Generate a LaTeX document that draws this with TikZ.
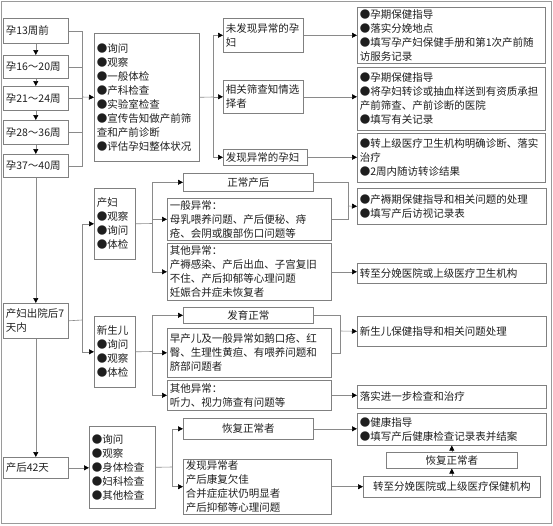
\documentclass[tikz,border=0pt]{standalone}
\usepackage{fontspec}
\setmainfont{Noto Sans CJK SC}
\usetikzlibrary{arrows.meta}
\definecolor{edge}{HTML}{808080}
\definecolor{wire}{HTML}{8A8A8A}
\definecolor{ink}{HTML}{1E1E1E}
\definecolor{rim}{HTML}{9A9A9A}

\begin{document}
\begin{tikzpicture}[x=1pt,y=-1pt,font=\fontsize{10.5}{14}\selectfont,text=ink,
  box/.style={draw=edge,line width=0.6pt,anchor=north west,inner xsep=2.5pt,inner ysep=1.5pt,align=left},
  link/.style={draw=wire,line width=0.6pt},
  arr/.style={link,-{Triangle[length=5pt,width=5pt,color=black]}}]
\useasboundingbox (0,0) rectangle (553,525);
\draw[rim,line width=1.5pt] (1.5,1.5) rectangle (551.5,523.5);

% left column
\node[box,text width=60pt,minimum height=25pt] (w13) at (3,18) {孕13周前};
\node[box,text width=60pt,minimum height=23pt] (w16) at (3,55) {孕16～20周};
\node[box,text width=60pt,minimum height=24pt] (w21) at (3,86) {孕21～24周};
\node[box,text width=60pt,minimum height=24pt] (w28) at (3,120) {孕28～36周};
\node[box,text width=60pt,minimum height=23pt] (w37) at (3,154) {孕37～40周};
\node[box,text width=60pt,minimum height=35pt] (d7) at (3,303) {产妇出院后7\\天内};
\node[box,text width=60pt,minimum height=21pt] (d42) at (3,457) {产后42天};

% prenatal
\node[box,text width=100pt,minimum height=128pt] (chk) at (94,33)
  {●询问\\●观察\\●一般体检\\●产科检查\\●实验室检查\\●宣传告知做产前筛\\查和产前诊断\\●评估孕妇整体状况};
\node[box,text width=75pt,minimum height=34pt] (p1) at (223,18) {未发现异常的孕\\妇};
\node[box,text width=75pt,minimum height=33pt] (p2) at (223,80) {相关筛查知情选\\择者};
\node[box,text width=79pt,minimum height=16pt] (p3) at (223,149) {发现异常的孕妇};
\node[box,text width=183pt,minimum height=56pt] (r1) at (357,7)
  {●孕期保健指导\\●落实分娩地点\\●填写孕产妇保健手册和第1次产前随\\访服务记录};
\node[box,text width=183pt,minimum height=63pt] (r2) at (357,67)
  {●孕期保健指导\\●将孕妇转诊或抽血样送到有资质承担\\产前筛查、产前诊断的医院\\●填写有关记录};
\node[box,text width=183pt,minimum height=49pt] (r3) at (357,133)
  {●转上级医疗卫生机构明确诊断、落实\\治疗\\●2周内随访转诊结果};

% postpartum, mother
\node[box,text width=36pt,minimum height=71pt] (mom) at (94,188) {产妇\\●观察\\●询问\\●体检};
\node[box,text width=125pt,minimum height=18pt,align=center] (n1) at (183,173) {正常产后};
\node[box,text width=159pt,minimum height=42pt] (n2) at (167,198)
  {一般异常：\\母乳喂养问题、产后便秘、痔\\疮、会阴或腹部伤口问题等};
\node[box,text width=159pt,minimum height=57pt] (n3) at (167,243)
  {其他异常：\\产褥感染、产后出血、子宫复旧\\不住、产后抑郁等心理问题\\妊娠合并症未恢复者};
\node[box,text width=184pt,minimum height=36pt] (r4) at (357,188)
  {●产褥期保健指导和相关问题的处理\\●填写产后访视记录表};
\node[box,text width=184pt,minimum height=20pt] (r5) at (357,263) {转至分娩医院或上级医疗卫生机构};

% postpartum, newborn
\node[box,text width=36pt,minimum height=71pt] (baby) at (94,316) {新生儿\\●询问\\●观察\\●体检};
\node[box,text width=125pt,minimum height=16pt,align=center] (b1) at (183,307) {发育正常};
\node[box,text width=159pt,minimum height=49pt] (b2) at (167,328)
  {早产儿及一般异常如鹅口疮、红\\臀、生理性黄疸、有喂养问题和\\脐部问题者};
\node[box,text width=159pt,minimum height=30pt] (b3) at (167,380) {其他异常：\\听力、视力筛查有问题等};
\node[box,text width=184pt,minimum height=30pt] (r6) at (357,316) {新生儿保健指导和相关问题处理};
\node[box,text width=184pt,minimum height=23pt] (r7) at (357,385) {落实进一步检查和治疗};

% 42 days
\node[box,text width=61pt,minimum height=82pt] (chk42) at (89,426)
  {●询问\\●观察\\●身体检查\\●妇科检查\\●其他检查};
\node[box,text width=125pt,minimum height=21pt,align=center] (f1) at (183,418) {恢复正常者};
\node[box,text width=143pt,minimum height=54pt] (f2) at (183,459)
  {发现异常者\\产后康复欠佳\\合并症症状仍明显者\\产后抑郁等心理问题};
\node[box,text width=184pt,minimum height=32pt] (r8) at (357,413)
  {●健康指导\\●填写产后健康检查记录表并结案};
\node[box,text width=126pt,minimum height=16pt,align=center] (rec) at (386,452) {恢复正常者};
\node[box,text width=172pt,minimum height=21pt,align=center] (r9) at (363,476) {转至分娩医院或上级医疗保健机构};

\coordinate (bus1) at (82,97);
\coordinate (bus2) at (213,97);
\coordinate (bus3) at (82,320);
\coordinate (bus4) at (152,223.5);
\coordinate (bus5) at (152,351.5);
\coordinate (bus6) at (172,467);
\coordinate (j1) at (348,206);
\coordinate (j2) at (340,331);

\draw[arr] (w13) -- (w16);
\draw[arr] (w16) -- (w21);
\draw[arr] (w21) -- (w28);
\draw[arr] (w28) -- (w37);
\draw[arr] (w37) -- (d7);
\draw[arr] (d7) -- (d42);

\foreach \w in {w13,w16,w21,w28,w37}
  \draw[link] (\w.east) -| (bus1);
\draw[arr] (bus1) -- (chk.west);
\draw[link] (chk.east) -- (bus2);
\foreach \p/\r in {p1/r1,p2/r2,p3/r3}{
  \draw[arr] (bus2) |- (\p.west);
  \draw[arr] (\p.east) -- (\p.east -| \r.west);
}

\draw[link] (d7.east) -- (bus3);
\draw[arr] (bus3) |- (mom.west);
\draw[arr] (bus3) |- (baby.west);
\draw[link] (mom.east) -- (bus4);
\foreach \n in {n1,n2,n3}
  \draw[arr] (bus4) |- (\n.west);
\draw[link] (n1.east) -| (j1);
\draw[link] (n2.east) -| (j1);
\draw[arr] (j1) -- (r4.west);
\draw[arr] (n3.east) -- (n3.east -| r5.west);

\draw[link] (baby.east) -- (bus5);
\foreach \b in {b1,b2,b3}
  \draw[arr] (bus5) |- (\b.west);
\draw[link] (b1.east) -| (j2);
\draw[link] (b2.east) -| (j2);
\draw[arr] (j2) -- (r6.west);
\draw[arr] (b3.east) -- (b3.east -| r7.west);

\draw[arr] (d42.east) -- (d42.east -| chk42.west);
\draw[link] (chk42.east) -- (bus6);
\draw[arr] (bus6) |- (f1.west);
\draw[arr] (bus6) |- (f2.west);
\draw[arr] (f1.east) -- (f1.east -| r8.west);
\draw[arr] (f2.east) -- (f2.east -| r9.west);
\draw[arr] (r9) -- (rec);
\draw[arr] (rec) -- (r8);
\end{tikzpicture}
\end{document}
